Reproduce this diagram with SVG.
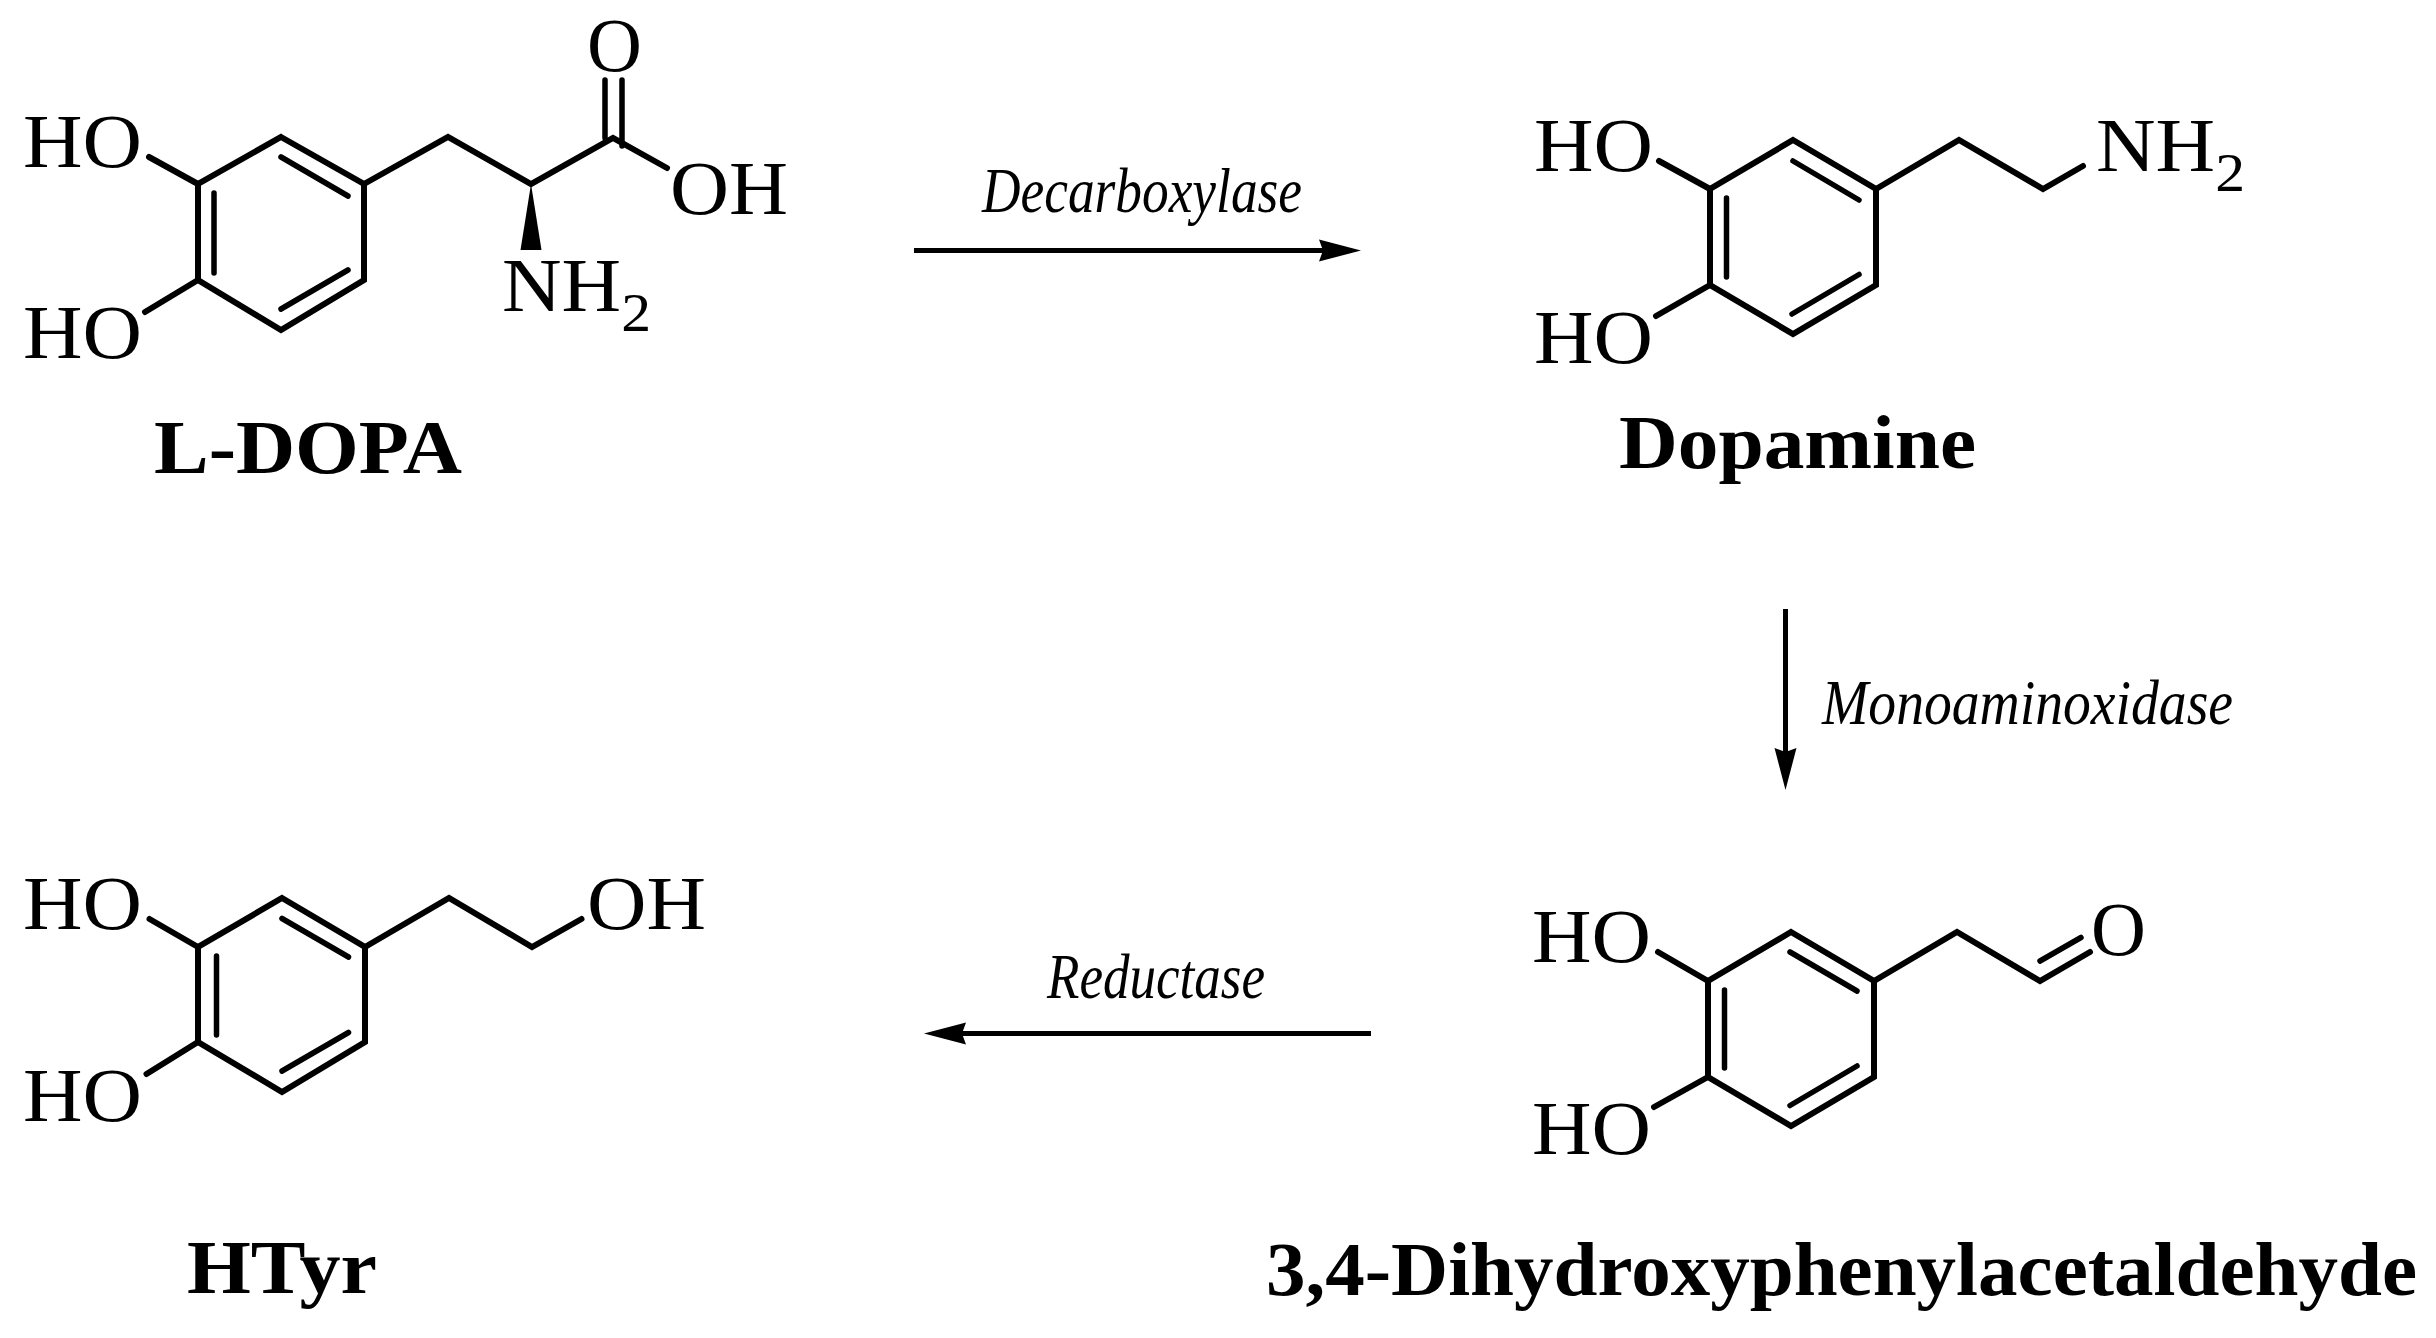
<svg xmlns="http://www.w3.org/2000/svg" width="2436" height="1338" viewBox="0 0 2436 1338">
<style>
text{font-family:"Liberation Serif","Times New Roman",serif;fill:#000;font-size:76px}
.name{font-weight:bold;font-size:77px}
.enz{font-style:italic;font-size:64px}
.sub{font-size:55px}
.b{fill:none;stroke:#000;stroke-width:6;stroke-linejoin:miter;stroke-linecap:round}
.d{fill:none;stroke:#000;stroke-width:5.5;stroke-linecap:round}
.arrow{fill:none;stroke:#000;stroke-width:5;marker-end:url(#head)}
</style>
<defs>
<marker id="head" markerUnits="userSpaceOnUse" markerWidth="44" markerHeight="24" refX="4" refY="12" orient="auto">
<path d="M42,12 L0,1 L4,12 L0,23 Z" fill="#000"/>
</marker>
</defs>
<rect width="2436" height="1338" fill="#fff"/>
<g id="connectors">
<line class="arrow" x1="914" y1="250.5" x2="1323" y2="250.5"/>
<line class="arrow" x1="1785.5" y1="609" x2="1785.5" y2="752"/>
<line class="arrow" x1="1371" y1="1033.5" x2="962" y2="1033.5"/>
<text class="enz" x="982" y="211.5" textLength="320" lengthAdjust="spacingAndGlyphs">Decarboxylase</text>
<text class="enz" x="1822" y="724" textLength="411" lengthAdjust="spacingAndGlyphs">Monoaminoxidase</text>
<text class="enz" x="1047" y="997.5" textLength="218" lengthAdjust="spacingAndGlyphs">Reductase</text>
</g>
<g id="l-dopa">
<polygon class="b" points="281,137 364,184 364,280 281,330 198,280 198,184"/>
<path class="b" d="M198,184L149,157M198,280L145,312M364,184L448,137L531,184L613,138L667,168"/>
<path class="d" d="M281,157L348,196M214,193V273M348,270L281,309M605,138V80M622,146V80"/>
<polygon points="531,184 520.5,250 541.5,250" fill="#000"/>
<text x="23" y="167" textLength="119" lengthAdjust="spacingAndGlyphs">HO</text>
<text x="23" y="358" textLength="119" lengthAdjust="spacingAndGlyphs">HO</text>
<text x="587" y="70.5">O</text>
<text x="670" y="214" textLength="118" lengthAdjust="spacingAndGlyphs">OH</text>
<text x="502" y="311" textLength="149" lengthAdjust="spacingAndGlyphs">NH<tspan class="sub" dy="19.5">2</tspan></text>
<text class="name" x="154" y="473" textLength="308" lengthAdjust="spacingAndGlyphs">L-DOPA</text>
</g>
<g id="dopamine">
<polygon class="b" points="1793,140 1876,189 1876,285 1793,334 1710,285 1710,189"/>
<path class="b" d="M1710,189L1659,161M1710,285L1656,316M1876,189L1959,140L2043,189L2083,166"/>
<path class="d" d="M1793,161L1859,200M1726.5,198V277M1859,274.5L1792,314"/>
<text x="1534" y="171" textLength="119" lengthAdjust="spacingAndGlyphs">HO</text>
<text x="1534" y="362.5" textLength="119" lengthAdjust="spacingAndGlyphs">HO</text>
<text x="2096" y="171" textLength="149" lengthAdjust="spacingAndGlyphs">NH<tspan class="sub" dy="19.5">2</tspan></text>
<text class="name" x="1619" y="467.5" textLength="357" lengthAdjust="spacingAndGlyphs">Dopamine</text>
</g>
<g id="aldehyde">
<polygon class="b" points="1791,932 1874,981 1874,1077 1791,1126 1708,1077 1708,981"/>
<path class="b" d="M1708,981L1658,952M1708,1077L1654,1107M1874,981L1957,932L2040,981L2090,952"/>
<path class="d" d="M1790,952L1857,991M1724.5,990V1068M1857,1066L1790,1105.5M2040,961L2081,937.5"/>
<text x="1532" y="961.5" textLength="119" lengthAdjust="spacingAndGlyphs">HO</text>
<text x="1532" y="1154" textLength="119" lengthAdjust="spacingAndGlyphs">HO</text>
<text x="2091" y="955">O</text>
<text class="name" x="1266" y="1295" textLength="1151" lengthAdjust="spacingAndGlyphs">3,4-Dihydroxyphenylacetaldehyde</text>
</g>
<g id="htyr">
<polygon class="b" points="282,898 365,947 365,1042 282,1092 198,1042 198,947"/>
<path class="b" d="M198,947L149.5,919M198,1042L146.5,1074M365,947L449,898L532,947L581.5,919"/>
<path class="d" d="M282,918.5L348.5,957M216.5,956V1035M348.5,1032.5L282,1071"/>
<text x="23" y="928.5" textLength="119" lengthAdjust="spacingAndGlyphs">HO</text>
<text x="23" y="1120.5" textLength="119" lengthAdjust="spacingAndGlyphs">HO</text>
<text x="587" y="928.5" textLength="119" lengthAdjust="spacingAndGlyphs">OH</text>
<text class="name" x="187" y="1292.5" textLength="190" lengthAdjust="spacingAndGlyphs">HTyr</text>
</g>
</svg>
